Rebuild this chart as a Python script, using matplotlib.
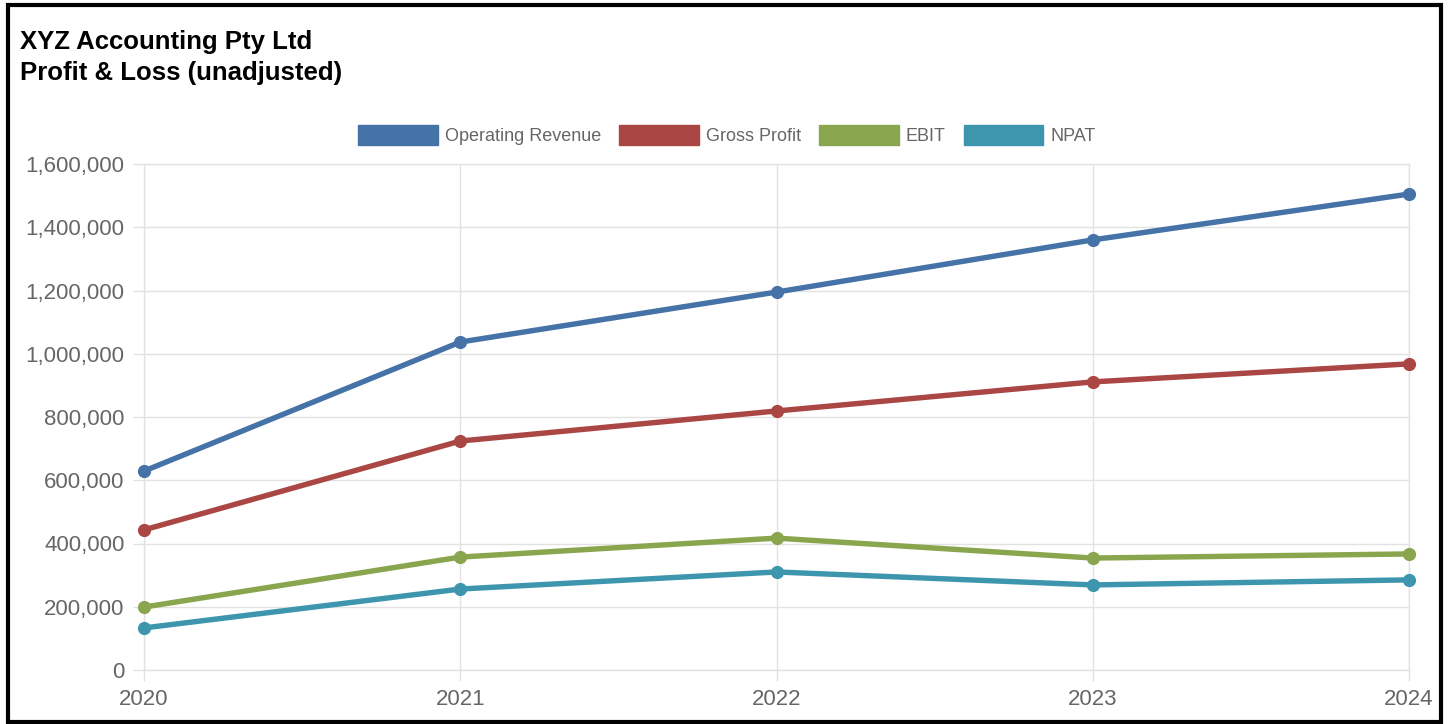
import matplotlib
matplotlib.use("Agg")
import matplotlib.pyplot as plt
from matplotlib.patches import Patch, Rectangle
from matplotlib.ticker import FuncFormatter

plt.rcParams['font.family'] = ['Liberation Sans', 'DejaVu Sans']

# values
years = [2020, 2021, 2022, 2023, 2024]
revenue = [629000, 1037000, 1195000, 1360000, 1505000]
gross_profit = [443000, 724000, 819000, 911000, 968000]
ebit = [199000, 357000, 417000, 354000, 367000]
npat = [133000, 256000, 310000, 269000, 285000]

series_names = ["Operating Revenue", "Gross Profit", "EBIT", "NPAT"]
series_colors = ["#4572A7", "#AA4643", "#89A54E", "#3D96AE"]
y_ticks = [0, 200000, 400000, 600000, 800000, 1000000, 1200000, 1400000, 1600000]

W, H = 1450, 724


def main():
    fig = plt.figure(figsize=(W / 100, H / 100), dpi=100)
    fig.patch.set_facecolor("white")
    ax = fig.add_axes([144 / W, 1 - 670 / H, (1409 - 144) / W, (670 - 164) / H])

    grid_col = "#e2e2e2"
    for vals, col in zip([revenue, gross_profit, ebit, npat], series_colors):
        ax.plot(years, vals, color=col, linewidth=3.9, marker="o",
                markersize=9.5, markeredgewidth=0, solid_capstyle="round",
                solid_joinstyle="round", clip_on=False, zorder=3)

    ax.set_xlim(2020, 2024)
    ax.set_ylim(0, 1600000)
    ax.set_xticks(years)
    ax.set_yticks(y_ticks)
    ax.yaxis.set_major_formatter(FuncFormatter(lambda v, p: "{:,.0f}".format(v)))
    ax.grid(True, color=grid_col, linewidth=1.0, zorder=0)
    for sp in ax.spines.values():
        sp.set_color(grid_col)
        sp.set_linewidth(1.0)
    ax.tick_params(axis="both", colors=grid_col, length=8, width=1.0,
                   labelcolor="#666666", labelsize=16, pad=6)

    handles = [Patch(facecolor=c, edgecolor=c) for c in series_colors]
    fig.legend(handles, series_names, loc="center", ncol=4,
               bbox_to_anchor=(727 / W, 1 - 135 / H), frameon=False,
               fontsize=13, labelcolor="#666666", handlelength=4.4,
               handleheight=1.3, handletextpad=0.4, columnspacing=1.0)

    fig.text(20 / W, 1 - 49 / H, "XYZ Accounting Pty Ltd", fontsize=18.5,
             fontweight="bold", va="baseline", ha="left", color="black")
    fig.text(20 / W, 1 - 80 / H, "Profit & Loss (unadjusted)", fontsize=18.5,
             fontweight="bold", va="baseline", ha="left", color="black")

    # black frame round the picture
    fig.patches.append(Rectangle((8 / W, 2 / H), (1441 - 8) / W, (717) / H,
                                 transform=fig.transFigure, fill=False,
                                 edgecolor="black", linewidth=3))

    fig.savefig("out.png", dpi=100)


if __name__ == '__main__':
    main()
